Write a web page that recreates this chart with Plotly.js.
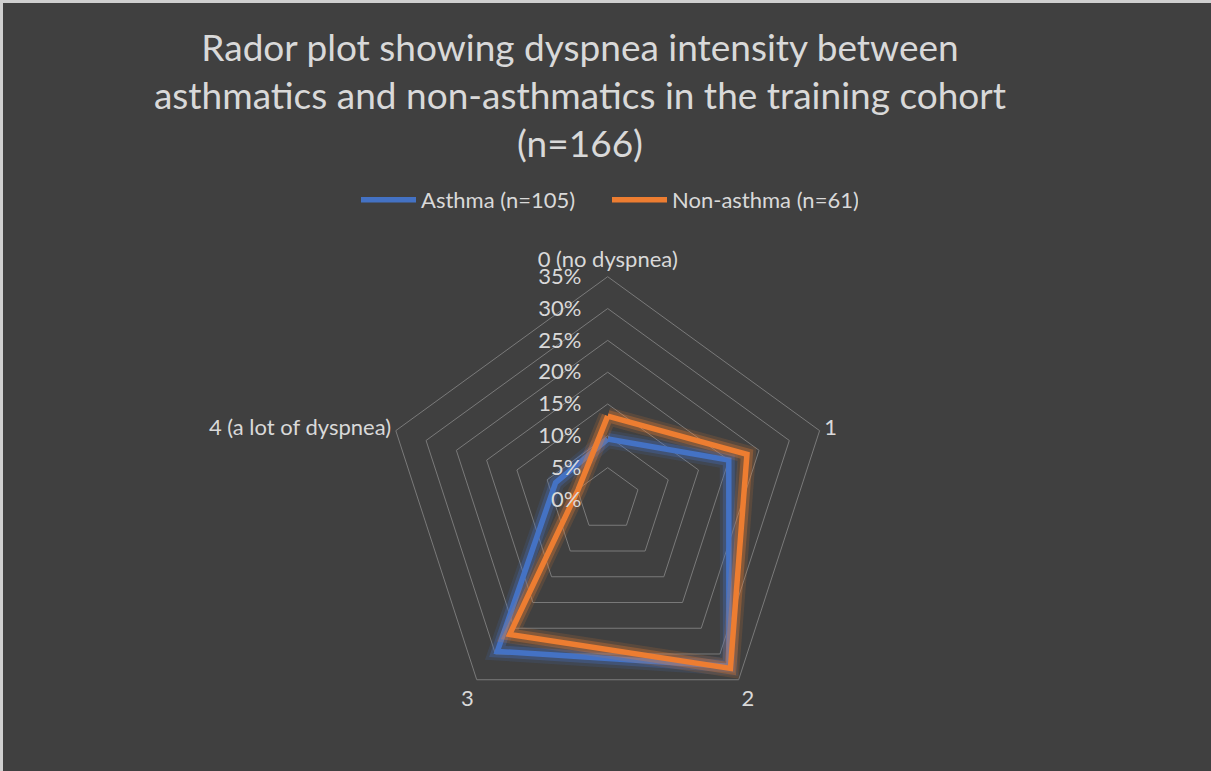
<!DOCTYPE html>
<html>
<head>
<meta charset="utf-8">
<script src="https://cdn.plot.ly/plotly-3.0.1.min.js"></script>
<style>html,body{margin:0;padding:0;background:#404040;}#chart{width:1211px;height:771px;}</style>
</head>
<body>
<div id="chart"></div>
<script>
const categories = ["0 (no dyspnea)", "1", "2", "3", "4 (a lot of dyspnea)"];
const asthmaValues = [9.5, 20.0, 32.4, 29.5, 8.6];
const nonAsthmaValues = [13.1, 23.0, 32.8, 26.2, 4.9];
const seriesNames = ["Asthma (n=105)", "Non-asthma (n=61)"];
const radialTicks = [0, 5, 10, 15, 20, 25, 30, 35];

const close = a => a.concat([a[0]]);
const FONT = "Lato, 'Open Sans', sans-serif";
const TXT = "#d9d9d9";
const PAD = "\u00a0\u00a0\u00a0\u00a0";

function glow(vals, color, w, op) {
  return {type: "scatterpolar", r: close(vals), theta: close(categories), mode: "lines",
    line: {color: color, width: w}, opacity: op, showlegend: false, hoverinfo: "skip"};
}
const blue = "#4472C4", orange = "#ED7D31";
const data = [
  glow(asthmaValues, blue, 18, 0.15),
  glow(asthmaValues, blue, 12, 0.3),
  {type: "scatterpolar", name: seriesNames[0], r: close(asthmaValues), theta: close(categories),
   mode: "lines", line: {color: blue, width: 5.5}},
  glow(nonAsthmaValues, orange, 18, 0.15),
  glow(nonAsthmaValues, orange, 12, 0.3),
  {type: "scatterpolar", name: seriesNames[1], r: close(nonAsthmaValues), theta: close(categories),
   mode: "lines", line: {color: orange, width: 5.5}}
];

const cx = 607.7, cy = 499.5, R = 222.8, W = 1211, H = 771;
const layout = {
  width: W, height: H,
  margin: {l: 0, r: 0, t: 0, b: 0},
  paper_bgcolor: "#404040",
  font: {family: FONT, color: TXT, size: 22},
  title: {text: "Rador plot showing dyspnea intensity between<br>asthmatics and non-asthmatics in the training cohort<br>(n=166)",
    font: {family: FONT, size: 37, color: TXT}, x: 580/W, xanchor: "center", yref: "container", y: 1 - 61/H, yanchor: "top"},
  showlegend: true,
  legend: {orientation: "h", x: 607/W, xanchor: "center", y: 1 - 200/H, yanchor: "middle",
    font: {family: FONT, size: 22, color: TXT}, bgcolor: "rgba(0,0,0,0)", itemwidth: 55,
    entrywidth: 181, entrywidthmode: "pixels", traceorder: "normal"},
  polar: {
    domain: {x: [(cx - R)/W, (cx + R)/W], y: [(H - cy - R)/H, (H - cy + R)/H]},
    bgcolor: "#404040",
    gridshape: "linear",
    radialaxis: {range: [0, 35], tickvals: radialTicks, ticktext: radialTicks.map(v => v + "%" + PAD),
      angle: 90, tickangle: 90, side: "counterclockwise", showline: false, ticks: "",
      gridcolor: "#7a7a7a", gridwidth: 1, tickfont: {size: 22, color: TXT}},
    angularaxis: {type: "category", categoryorder: "array", categoryarray: categories, rotation: 90, direction: "clockwise",
      showgrid: false, showline: true, linecolor: "#7a7a7a", linewidth: 1, ticks: "",
      tickfont: {size: 22, color: TXT}}
  },
  shapes: [
    {type: "rect", xref: "paper", yref: "paper", x0: 0, x1: 3/W, y0: 0, y1: 1, fillcolor: "#d0d0d0", line: {width: 0}},
    {type: "rect", xref: "paper", yref: "paper", x0: 0, x1: 1, y0: 1 - 3/H, y1: 1, fillcolor: "#d0d0d0", line: {width: 0}}
  ]
};
Plotly.newPlot("chart", data, layout, {displayModeBar: false, staticPlot: true});
</script>
</body>
</html>
